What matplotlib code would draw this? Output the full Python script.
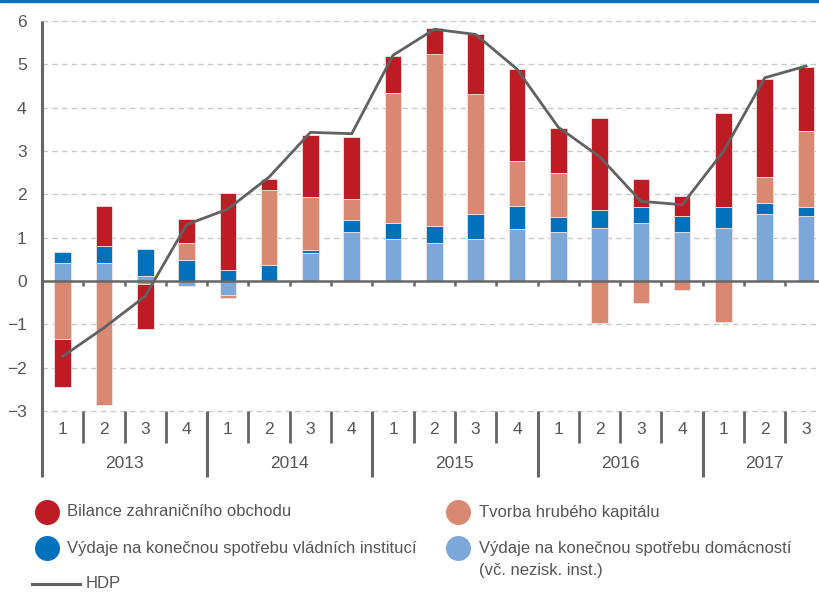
import matplotlib
matplotlib.use("Agg")
import matplotlib.pyplot as plt
import numpy as np
from matplotlib.lines import Line2D
from matplotlib.patches import Rectangle
import matplotlib.transforms as mtrans

plt.rcParams['font.family'] = ['Liberation Sans', 'DejaVu Sans']

years = ["2013", "2014", "2015", "2016", "2017"]
quarters = ["1", "2", "3", "4", "1", "2", "3", "4", "1", "2", "3", "4",
            "1", "2", "3", "4", "1", "2", "3"]

households = [0.42, 0.42, 0.11, -0.12, -0.32, 0.0, 0.65, 1.12, 0.97, 0.88, 0.97, 1.20,
              1.12, 1.23, 1.35, 1.12, 1.23, 1.55, 1.50]
government = [0.26, 0.39, 0.63, 0.49, 0.26, 0.37, 0.07, 0.28, 0.38, 0.39, 0.57, 0.54,
              0.35, 0.40, 0.35, 0.39, 0.47, 0.26, 0.20]
capital = [-1.34, -2.85, -0.08, 0.39, -0.08, 1.72, 1.22, 0.50, 3.00, 3.98, 2.78, 1.02,
           1.02, -0.98, -0.51, -0.20, -0.94, 0.59, 1.76]
trade = [-1.11, 0.92, -1.02, 0.55, 1.78, 0.27, 1.43, 1.43, 0.85, 0.58, 1.39, 2.13,
         1.04, 2.13, 0.66, 0.46, 2.18, 2.26, 1.47]
hdp = [-1.74, -1.08, -0.35, 1.30, 1.66, 2.40, 3.43, 3.40, 5.21, 5.81, 5.69, 4.89,
       3.55, 2.87, 1.84, 1.76, 2.99, 4.69, 4.96]

labels = ["Bilance zahraničního obchodu", "Tvorba hrubého kapitálu",
          "Výdaje na konečnou spotřebu vládních institucí",
          "Výdaje na konečnou spotřebu domácností", "(vč. nezisk. inst.)", "HDP"]

C_TRADE = "#BE1C24"
C_CAP = "#D98971"
C_GOV = "#0071BD"
C_HH = "#7CA7D9"
C_LINE = "#616161"
C_TEXT = "#555555"

W, H = 820, 592
fig = plt.figure(figsize=(W / 100, H / 100), dpi=100)

def fx(px):
    return px / W

def fy(py):
    return 1 - py / H

n = len(quarters)
x = np.arange(n)
ax_left, ax_top, ax_bottom = 42, 21, 411
step = 41.3
ax = fig.add_axes([fx(ax_left), fy(ax_bottom), n * step / W, (ax_bottom - ax_top) / H])
ax.set_xlim(-0.5, n - 0.5)
ax.set_ylim(-3, 6)

# gridlines
for v in [-3, -2, -1, 1, 2, 3, 4, 5, 6]:
    ax.axhline(v, color="#C9C9C9", lw=1.0, ls=(0, (4, 3)), zorder=0.5, clip_on=False)

# stacked diverging bars
series = [(households, C_HH), (government, C_GOV), (capital, C_CAP), (trade, C_TRADE)]
pos = np.zeros(n)
neg = np.zeros(n)
bw = 0.40
for vals, col in series:
    v = np.array(vals)
    bottoms = np.where(v >= 0, pos, neg)
    ax.bar(x, v, bw, bottom=bottoms, color=col, edgecolor="#F3E3E3", linewidth=0.6, zorder=2)
    pos = pos + np.where(v >= 0, v, 0)
    neg = neg + np.where(v < 0, v, 0)

ax.plot(x, hdp, color=C_LINE, lw=2.0, zorder=3, solid_joinstyle="miter")

# zero line
ax.axhline(0, color="#666666", lw=1.8, zorder=4)

for s in ax.spines.values():
    s.set_visible(False)
ax.set_xticks([])
ax.set_yticks([-3, -2, -1, 0, 1, 2, 3, 4, 5, 6])
ax.set_yticklabels(["\u22123", "\u22122", "\u22121", "0", "1", "2", "3", "4", "5", "6"])
ax.tick_params(axis="y", length=0, pad=11, labelsize=12.5, labelcolor=C_TEXT)

trans = mtrans.blended_transform_factory(ax.transData, ax.transAxes)
px_per_unit = (ax_bottom - ax_top) / 9.0
# small ticks on zero line
for b in np.arange(0.5, n - 0.5, 1.0):
    ax.plot([b, b], [0, -5 / px_per_unit], color="#666666", lw=1.8, zorder=4,
            solid_capstyle="butt")

hgt = ax_bottom - ax_top
q_end = -(443 - ax_bottom) / hgt
y_end = -(477 - ax_bottom) / hgt
# left spine
ax.add_line(Line2D([0, 0], [1, y_end], transform=ax.transAxes, color="#666666", lw=2.2,
                   clip_on=False, solid_capstyle="butt", zorder=5))
for b in np.arange(0.5, n - 0.5, 1.0):
    is_year = int(b + 0.5) % 4 == 0
    ax.add_line(Line2D([b, b], [0, y_end if is_year else q_end], transform=trans,
                       color="#666666", lw=2.2 if is_year else 2.0, clip_on=False,
                       solid_capstyle="butt"))

for i, q in enumerate(quarters):
    ax.text(i, -(430 - ax_bottom) / hgt, q, transform=trans, ha="center", va="center",
            fontsize=12.5, color=C_TEXT)
for k, yr in enumerate(years):
    idx = [i for i in range(n) if i // 4 == k]
    ax.text(np.mean(idx), -(463 - ax_bottom) / hgt, yr, transform=trans, ha="center",
            va="center", fontsize=12.5, color=C_TEXT)

# top blue band
fig.add_artist(Rectangle((0, fy(2)), 1, fy(0) - fy(2), transform=fig.transFigure,
                         color="#0070C0", zorder=10))

# legend
leg_items = [
    (47, 512, 67, C_TRADE, labels[0]),
    (458, 512, 479, C_CAP, labels[1]),
    (47, 548, 67, C_GOV, labels[2]),
    (458, 548, 479, C_HH, labels[3]),
]
LFS = 12
for cx, cy, tx, col, lab in leg_items:
    fig.add_artist(Line2D([fx(cx)], [fy(cy)], transform=fig.transFigure, marker="o",
                          markersize=18, color=col, markeredgewidth=0, linestyle="none"))
    fig.text(fx(tx), fy(cy), lab, ha="left", va="center", fontsize=LFS, color=C_TEXT)
fig.text(fx(479), fy(571), labels[4], ha="left", va="center", fontsize=LFS, color=C_TEXT)
fig.add_artist(Line2D([fx(32), fx(80)], [fy(584), fy(584)], transform=fig.transFigure,
                      color=C_LINE, lw=2.2))
fig.text(fx(86), fy(584), labels[5], ha="left", va="center", fontsize=LFS, color=C_TEXT)

fig.savefig("out.png", dpi=100)
